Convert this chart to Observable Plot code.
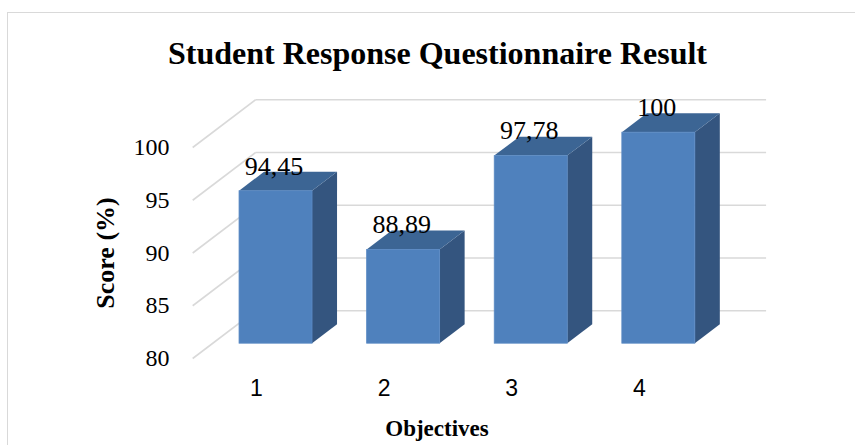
<!DOCTYPE html>
<html>
<head>
<meta charset="utf-8">
<script src="https://cdn.jsdelivr.net/npm/d3@7"></script>
<script src="https://cdn.jsdelivr.net/npm/@observablehq/plot@0.6"></script>
<style>
  html, body { margin: 0; padding: 0; background: #fff; overflow: hidden; }
  #wrap { position: relative; width: 855px; height: 445px; overflow: hidden; }
  #border { position: absolute; left: 7px; top: 12px; width: 900px; height: 500px;
            border: 1.5px solid #d9d9d9; box-sizing: border-box; }
  #chart { position: absolute; left: 0; top: 0; }
  #chart svg { font-family: "Liberation Serif", serif !important; }
  #chart svg g[aria-label="y-axis tick label"] text { font-family: "Liberation Serif", serif !important; font-size: 24px !important; }
  #chart svg g[aria-label="text"] text { font-family: "Liberation Serif", serif !important; font-size: 26px !important; }
  #chart svg g[aria-label="x-axis tick label"] text { font-family: "Liberation Sans", Arial, sans-serif !important; font-size: 23px !important; }
  .title { position: absolute; left: 10px; top: 37px; width: 855px; text-align: center;
           font-family: "Liberation Serif", serif; font-weight: bold; font-size: 32px;
           line-height: 1; color: #000; white-space: nowrap; }
  .ytitle { position: absolute; left: 105.5px; top: 253px; transform: translate(-50%, -50%) rotate(-90deg);
            font-family: "Liberation Serif", serif; font-weight: bold; font-size: 26px; line-height: 1;
            white-space: nowrap; color: #000; }
  .xtitle { position: absolute; left: 437px; top: 417px; transform: translateX(-50%);
            font-family: "Liberation Serif", serif; font-weight: bold; font-size: 23px; line-height: 1;
            white-space: nowrap; color: #000; }
</style>
</head>
<body>
<div id="wrap">
  <div id="border"></div>
  <div id="chart"></div>
  <div class="title">Student Response Questionnaire Result</div>
  <div class="ytitle">Score (%)</div>
  <div class="xtitle">Objectives</div>
</div>
<script>
// ---- data ----
const categories = ["1", "2", "3", "4"];
const scores = [94.45, 88.89, 97.78, 100];
const valueLabels = ["94,45", "88,89", "97,78", "100"];
const yTicks = [80, 85, 90, 95, 100];

// ---- 3D projection (data units for full depth) ----
const DX = 0.4937, DY = 4.53;
const Z0 = 0.31, Z1 = 0.707, HALF = 0.286;
const BASE = 80, X_LO = 0.5, X_HI = 4.5;

const bars = categories.map((c, i) => ({ c, x: i + 1, v: scores[i], label: valueLabels[i] }));

const front = bars.map(b => ({
  c: b.c,
  x1: b.x - HALF + Z0 * DX, x2: b.x + HALF + Z0 * DX,
  y1: BASE + Z0 * DY, y2: b.v + Z0 * DY
}));
const side = bars.flatMap(b => [Z0, Z1].map(z => ({
  c: b.c, x: b.x + HALF + z * DX, y1: BASE + z * DY, y2: b.v + z * DY
})));
const topFace = bars.flatMap(b => [Z0, Z1].map(z => ({
  c: b.c, y: b.v + z * DY, x1: b.x - HALF + z * DX, x2: b.x + HALF + z * DX
})));
const backGrid = yTicks.map(t => ({ x1: X_LO + DX, x2: X_HI + DX, y1: t + DY, y2: t + DY }));
const sideGrid = yTicks.map(t => ({ x1: X_LO, x2: X_LO + DX, y1: t, y2: t + DY }));

const GRID = "#d9d9d9";
const chart = Plot.plot({
  width: 855,
  height: 445,
  marginLeft: 192,
  marginBottom: 87,
  marginTop: 148,
  marginRight: 89,
  x: { type: "linear", domain: [0, 5], range: [128.4, 766.4], label: null },
  y: { type: "linear", domain: [80, 100], range: [358, 147], label: null },
  style: { background: "transparent", color: "#000", overflow: "visible" },
  marks: [
    Plot.link(backGrid, { x1: "x1", x2: "x2", y1: "y1", y2: "y2", stroke: GRID, strokeWidth: 1.6 }),
    Plot.link(sideGrid, { x1: "x1", x2: "x2", y1: "y1", y2: "y2", stroke: GRID, strokeWidth: 1.6 }),
    Plot.areaY(side, { x: "x", y1: "y1", y2: "y2", z: "c", fill: "#34557f", curve: "linear" }),
    Plot.areaX(topFace, { y: "y", x1: "x1", x2: "x2", z: "c", fill: "#3c6594", curve: "linear" }),
    Plot.rect(front, { x1: "x1", x2: "x2", y1: "y1", y2: "y2", fill: "#4f81bd", stroke: "#5a8ac4", strokeWidth: 0.8 }),
    Plot.text(bars, {
      x: b => b.x + Z0 * DX, y: b => b.v + Z0 * DY, text: "label",
      dy: -25, dx: -2, fontSize: 26, fontFamily: "Liberation Serif", fill: "#000"
    }),
    Plot.axisY(yTicks, { tickSize: 0, tickPadding: 23, fontSize: 24, fontFamily: "Liberation Serif", label: null }),
    Plot.axisX(bars.map(b => b.x), {
      tickSize: 0, tickPadding: 21, tickFormat: d => categories[d - 1],
      fontSize: 23, fontFamily: "Liberation Sans", label: null
    })
  ]
});
document.getElementById("chart").appendChild(chart);
</script>
</body>
</html>
